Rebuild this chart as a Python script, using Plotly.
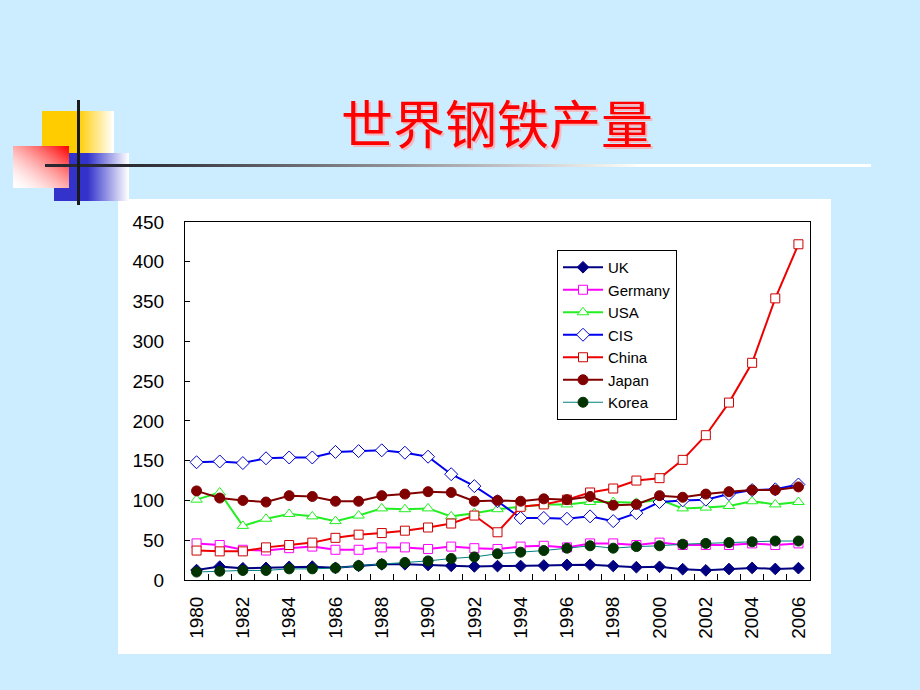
import base64, struct, zlib
import plotly.graph_objects as go

# ---------------- data ----------------
years = list(range(1980, 2007))
uk      = [12.5, 16.8, 14.8, 15.2, 16.5, 16.8, 15.3, 17.7, 19.7, 19.8, 18.9, 17.8, 17.1, 17.5, 17.6, 18.2, 19.0, 19.2, 17.6, 16.1, 16.6, 13.6, 12.1, 13.8, 15.2, 13.9, 14.9]
germany = [46, 44, 38, 37, 40, 42, 38, 38, 41, 41, 39, 42, 40, 39, 42, 43, 41, 46, 46, 44, 47, 44, 44, 44, 46, 44, 46]
usa     = [101, 110, 68, 77, 83, 80, 74, 81, 90, 89, 90, 80, 84, 89, 92, 95, 95, 98, 98, 97, 101, 90, 91, 93, 99, 95, 98]
cis     = [148, 149, 147, 153, 154, 154, 161, 162, 163, 160, 155, 133, 118, 99, 78, 78, 77, 80, 74, 84, 98, 100, 101, 108, 113, 114, 120]
china   = [37, 36, 36, 41, 44, 47, 53, 57, 59, 62, 66, 71, 81, 60, 92, 95, 101, 110, 115, 125, 128, 151, 182, 223, 273, 354, 422]
japan   = [112, 103, 100, 98, 106, 105, 99, 99, 106, 108, 111, 110, 99, 100, 99, 102, 101, 105, 94, 95, 106, 104, 108, 111, 113, 113, 117]
korea   = [10, 11, 12, 12, 14, 14, 15, 18, 20, 22, 24, 27, 29, 33, 35, 37, 40, 43, 40, 42, 43, 45, 46, 47, 48, 49, 49]
label_years = years[::2]
title_text = "世界钢铁产量"

# ---------------- geometry helpers ----------------
FW, FH = 920, 690
L, R, T, B = 185, 810, 222, 580
PW, PH = R - L, B - T


def fx(x):
    return (x - L) / PW


def fy(y):
    return (B - y) / PH


def png_uri(w, h, fn):
    raw = b""
    for j in range(h):
        row = bytearray([0])
        for i in range(w):
            row.extend(fn(i, j, w, h))
        raw += bytes(row)

    def chunk(tag, data):
        c = struct.pack(">I", len(data)) + tag + data
        return c + struct.pack(">I", zlib.crc32(tag + data) & 0xFFFFFFFF)

    png = b"\x89PNG\r\n\x1a\n"
    png += chunk(b"IHDR", struct.pack(">IIBBBBB", w, h, 8, 2, 0, 0, 0))
    png += chunk(b"IDAT", zlib.compress(raw, 9))
    png += chunk(b"IEND", b"")
    return "data:image/png;base64," + base64.b64encode(png).decode()


def mix(c, t):
    # t=0 -> colour c, t=1 -> white
    t = max(0.0, min(1.0, t))
    return bytes(int(round(v + (255 - v) * t)) for v in c)


def horiz_fade(col, solid_frac):
    def fn(i, j, w, h):
        u = i / (w - 1)
        t = 0 if u < solid_frac else (u - solid_frac) / (1 - solid_frac)
        return mix(col, t)
    return fn


def red_fn(i, j, w, h):
    u = i / (w - 1)
    v = j / (h - 1)
    s = 0.5 * (u + (1 - v))  # 1 at top-right
    return mix((255, 0, 0), 1 - s ** 1.6)


def line_fn(i, j, w, h):
    x = 45 + i
    t = (x - 120) / (640 - 120)
    t = max(0.0, t) ** 1.1
    return mix((40, 40, 48), t)


decor = [
    (42, 111, 72, 42, png_uri(72, 42, horiz_fade((255, 204, 0), 0.5))),
    (54, 153, 75, 48, png_uri(75, 48, horiz_fade((51, 51, 204), 0.45))),
    (13, 146, 56, 42, png_uri(56, 42, red_fn)),
    (45, 164, 826, 3, png_uri(826, 3, line_fn)),
]

# ---------------- figure ----------------
fig = go.Figure()

series = [
    ("UK", uk, dict(color="#000080", width=2), dict(symbol="diamond", size=9, color="#000080", line=dict(color="#000080", width=1))),
    ("Germany", germany, dict(color="#FF00FF", width=2), dict(symbol="square", size=9, color="white", line=dict(color="#FF00FF", width=1))),
    ("USA", usa, dict(color="#22EE22", width=2), dict(symbol="triangle-up", size=10, color="white", line=dict(color="#22EE22", width=1))),
    ("CIS", cis, dict(color="#0000EE", width=2), dict(symbol="diamond", size=10, color="white", line=dict(color="#0000CC", width=1))),
    ("China", china, dict(color="#EE0000", width=2), dict(symbol="square", size=9, color="white", line=dict(color="#CC0000", width=1))),
    ("Japan", japan, dict(color="#800000", width=2), dict(symbol="circle", size=10, color="#800000", line=dict(color="#800000", width=1))),
    ("Korea", korea, dict(color="#008080", width=1), dict(symbol="circle", size=10, color="#003300", line=dict(color="#003300", width=1))),
]
for name, vals, ln, mk in series:
    fig.add_trace(go.Scatter(x=years, y=vals, name=name, mode="lines+markers",
                             line=ln, marker=mk))

shapes = [
    dict(type="rect", xref="paper", yref="paper", x0=fx(118), x1=fx(831), y0=fy(654), y1=fy(199),
         fillcolor="white", line=dict(width=0), layer="below"),
    dict(type="line", xref="paper", yref="paper", x0=fx(78.5), x1=fx(78.5), y0=fy(205), y1=fy(100),
         line=dict(color="#1a1a1a", width=3), layer="above"),
]

images = [dict(source=src, xref="paper", yref="paper", x=fx(x), y=fy(y), sizex=w / PW, sizey=h / PH,
               xanchor="left", yanchor="top", sizing="stretch", layer="above")
          for (x, y, w, h, src) in decor]

annotations = [
    dict(text=title_text, xref="paper", yref="paper", x=fx(497), y=fy(122), xanchor="center", yanchor="middle",
         showarrow=False,
         font=dict(family="Noto Sans CJK SC", size=52, color="#FF0000", shadow="2px 2px 0px #F4B8C0")),
]

boundaries = [y + 0.5 for y in years[:-1]]

fig.update_layout(
    width=FW, height=FH,
    margin=dict(l=L, r=FW - R, t=T, b=FH - B, pad=0),
    paper_bgcolor="#CCECFF",
    plot_bgcolor="white",
    font=dict(family="Liberation Sans, Arial", color="black"),
    shapes=shapes, images=images, annotations=annotations,
    showlegend=True,
    legend=dict(x=fx(557), y=fy(250), xanchor="left", yanchor="top",
                bgcolor="white", bordercolor="black", borderwidth=1,
                font=dict(family="Liberation Sans, Arial", size=15, color="black"),
                itemwidth=40),
    xaxis=dict(range=[years[0] - 0.5, years[-1] + 0.5], tickmode="array",
               tickvals=label_years, ticktext=[str(v) for v in label_years],
               tickangle=-90, ticks="", showgrid=False, zeroline=False,
               showline=True, linecolor="black", linewidth=1, mirror=True,
               tickfont=dict(size=19), ticklabelstandoff=8,
               minor=dict(tickmode="array", tickvals=boundaries, ticks="inside",
                          ticklen=6, tickcolor="black", showgrid=False)),
    yaxis=dict(range=[0, 450], dtick=50, tick0=0, ticks="inside", ticklen=5,
               tickcolor="black", showgrid=False, zeroline=False,
               showline=True, linecolor="black", linewidth=1, mirror=True,
               tickfont=dict(size=19), ticklabelstandoff=16),
)

fig.write_html("out.html", config={"displayModeBar": False},
               post_script="document.body.style.margin='0';document.body.style.padding='0';")
